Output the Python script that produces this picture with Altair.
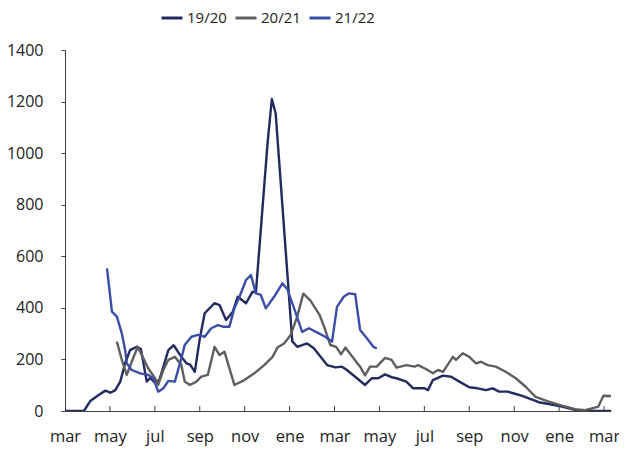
import altair as alt
import pandas as pd

# ---- data (x = months since the first "mar" tick) ----
month_names = ["mar", "may", "jul", "sep", "nov", "ene"]
tick_values = [0, 2, 4, 6, 8, 10, 12, 14, 16, 18, 20, 22, 24]
y_ticks = [0, 200, 400, 600, 800, 1000, 1200, 1400]
series_names = ["19/20", "20/21", "21/22"]
series_colors = ["#222a5e", "#5f5f5f", "#3a4ea5"]

x_1920 = [0, 0.84, 1.14, 1.50, 1.80, 2.02, 2.24, 2.46, 2.68, 2.90, 3.20, 3.38, 3.64, 3.79, 4.00,
          4.20, 4.60, 4.84, 5.18, 5.41, 5.57, 5.78, 6.00, 6.22, 6.66, 6.88, 7.17, 7.47, 7.69, 8.06,
          8.35, 8.50, 9.02, 9.21, 9.38, 10.12, 10.34, 10.78, 11.08, 11.37, 11.67, 12.04, 12.33, 12.55, 12.92,
          13.36, 13.66, 13.95, 14.25, 14.54, 14.76, 15.20, 15.50, 16.01, 16.16, 16.38, 16.83, 17.19, 17.56, 18.00,
          18.37, 18.74, 19.04, 19.33, 19.70, 20.07, 20.36, 20.65, 21.10, 21.54, 22.13, 22.72, 23.31, 24.49]
v_1920 = [0, 0, 40, 62, 79, 71, 81, 114, 186, 236, 249, 240, 114, 128, 110,
          120, 236, 255, 210, 185, 180, 152, 280, 379, 418, 411, 353, 385, 443, 418,
          463, 460, 1040, 1210, 1154, 270, 249, 262, 243, 211, 178, 169, 172, 159, 133,
          101, 127, 127, 142, 131, 127, 114, 88, 88, 81, 120, 137, 133, 114, 92,
          88, 81, 88, 75, 75, 66, 59, 49, 34, 27, 17, 4, 0, 0]

x_2021 = [2.31, 2.53, 2.75, 2.97, 3.24, 3.49, 3.71, 4.01, 4.15, 4.38, 4.60, 4.89, 5.18, 5.33, 5.56,
          5.85, 6.07, 6.36, 6.66, 6.88, 7.10, 7.54, 7.99, 8.43, 8.87, 9.24, 9.46, 9.75, 10.05, 10.34,
          10.61, 10.93, 11.34, 11.59, 11.81, 12.07, 12.29, 12.48, 12.88, 13.14, 13.36, 13.58, 13.88, 14.25, 14.54,
          14.76, 15.20, 15.57, 15.72, 16.09, 16.38, 16.61, 16.83, 17.27, 17.41, 17.71, 18.00, 18.30, 18.52, 18.82,
          19.18, 19.62, 20.07, 20.51, 20.95, 21.54, 22.13, 22.72, 23.16, 23.75, 23.97, 24.27, 24.49]
v_2021 = [269, 198, 140, 191, 249, 204, 165, 127, 101, 159, 198, 210, 178, 114, 101,
          114, 133, 140, 249, 217, 230, 101, 120, 146, 178, 210, 246, 262, 295, 366,
          455, 428, 372, 314, 256, 249, 220, 246, 201, 172, 138, 172, 172, 206, 198,
          168, 178, 172, 178, 162, 146, 159, 152, 210, 198, 224, 210, 185, 191, 178,
          172, 152, 127, 94, 55, 36, 21, 7, 3, 17, 59, 58, 53]

x_2122 = [1.87, 2.09, 2.31, 2.53, 2.68, 2.75, 2.97, 3.35, 3.71, 3.93, 4.15, 4.38, 4.60, 4.89, 5.18,
          5.33, 5.63, 5.92, 6.22, 6.51, 6.81, 7.03, 7.32, 7.54, 7.77, 8.06, 8.28, 8.50, 8.72, 8.94,
          9.31, 9.68, 9.90, 10.20, 10.56, 10.86, 11.30, 11.59, 11.89, 12.11, 12.41, 12.63, 12.92, 13.14, 13.44,
          13.73, 13.88]
v_2122 = [553, 385, 366, 301, 236, 185, 159, 146, 140, 127, 75, 88, 117, 114, 204,
          256, 288, 295, 288, 321, 333, 327, 327, 398, 443, 508, 527, 456, 450, 398,
          443, 495, 472, 398, 307, 321, 301, 288, 269, 404, 443, 456, 453, 314, 282,
          249, 243]

# ---- build table ----
rows = []
for name, xs, vs in [("19/20", x_1920, v_1920), ("20/21", x_2021, v_2021), ("21/22", x_2122, v_2122)]:
    for i, (xx, vv) in enumerate(zip(xs, vs)):
        rows.append({"m": xx, "v": vv, "serie": name, "i": i})
df = pd.DataFrame(rows)
ticks_df = pd.DataFrame({"t": tick_values[1:]})

W, H = 546, 361
AX = "#404040"
FONT = "Open Sans"

x_scale = alt.Scale(domain=[0, 24.31], nice=False, zero=False)
y_scale = alt.Scale(domain=[0, 1400], nice=False)

label_expr = "[" + ",".join(f"'{n}'" for n in month_names) + "][floor(datum.value / 2) % 6]"

lines = alt.Chart(df).mark_line(strokeWidth=2.4, strokeJoin="round", clip=True).encode(
    x=alt.X("m:Q", scale=x_scale, title=None,
            axis=alt.Axis(values=tick_values, labelExpr=label_expr, ticks=False,
                          labelPadding=17, labelFontSize=16.5, labelFlush=False,
                          labelOverlap=False, labelBound=False)),
    y=alt.Y("v:Q", scale=y_scale, title=None,
            axis=alt.Axis(values=y_ticks, format="d", tickSize=4, labelPadding=18,
                          labelFontSize=16)),
    color=alt.Color("serie:N", title=None,
                    scale=alt.Scale(domain=series_names, range=series_colors),
                    legend=alt.Legend(orient="none", direction="horizontal",
                                      legendX=95, legendY=-44,
                                      symbolType="stroke", symbolSize=441,
                                      symbolStrokeWidth=3, labelFontSize=15,
                                      labelOffset=3, columnPadding=2, labelLimit=200,
                                      labelFont=FONT, labelColor="#222222")),
    order="i:Q",
)

xticks = alt.Chart(ticks_df).mark_rule(color=AX, strokeWidth=1).encode(
    x=alt.X("t:Q", scale=x_scale),
    y=alt.value(H),
    y2=alt.value(H - 5),
)

chart = alt.layer(xticks, lines).properties(
    width=W, height=H,
    autosize="none",
    padding={"left": 57, "top": 42, "right": 8, "bottom": 38},
).configure_view(stroke=None).configure_axis(
    grid=False, domainColor=AX, tickColor=AX, labelColor="#222222",
    labelFont=FONT, domainWidth=1,
)

chart.save("out.html", embed_options={"renderer": "svg", "actions": False})
